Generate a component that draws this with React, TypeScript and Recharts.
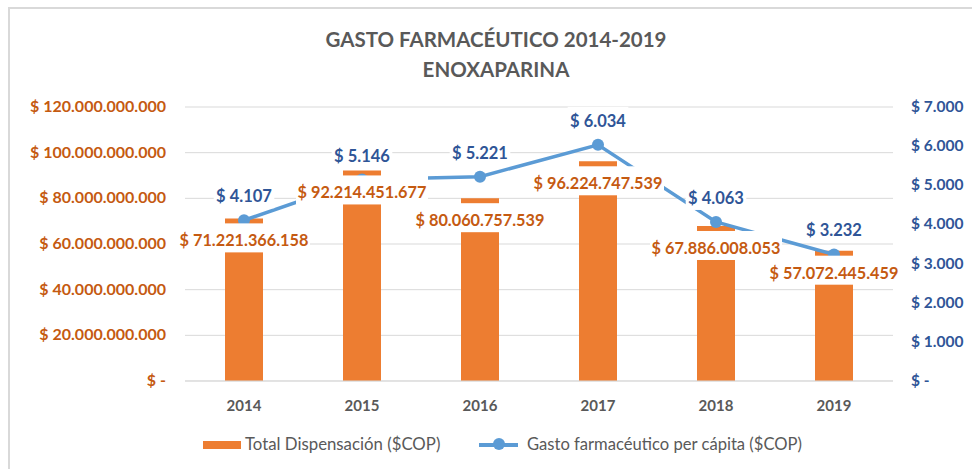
import { ComposedChart, Bar, Line, Scatter, XAxis, YAxis, CartesianGrid } from "recharts";

const years = ["2014", "2015", "2016", "2017", "2018", "2019"];
const totalDispensacion = [71221366158, 92214451677, 80060757539, 96224747539, 67886008053, 57072445459];
const gastoPerCapita = [4107, 5146, 5221, 6034, 4063, 3232];
const leftTicks = [0, 20000000000, 40000000000, 60000000000, 80000000000, 100000000000, 120000000000];
const rightTicks = [0, 1000, 2000, 3000, 4000, 5000, 6000, 7000];

const data = years.map((year, i) => ({
  year,
  total: totalDispensacion[i],
  perCapita: gastoPerCapita[i],
}));

const FONT = "Lato, 'Open Sans', sans-serif";
const ORANGE = "#ED7D31";
const ORANGE_TEXT = "#C55A11";
const BLUE = "#5B9BD5";
const BLUE_TEXT = "#2F5597";
const GRAY = "#595959";

// formato colombiano: puntos como separador de miles
function fmt(n: number) {
  if (n === 0) return "$ -";
  return "$ " + Math.round(n).toString().replace(/\B(?=(\d{3})+(?!\d))/g, ".");
}

function textWidth(s: string, size: number) {
  let w = 0;
  for (const c of s) {
    if (c === ".") w += 0.25;
    else if (c === " ") w += 0.26;
    else w += 0.56;
  }
  return w * size;
}

const LeftTick = (props: any) => {
  const { x, y, payload } = props;
  return (
    <text x={x} y={y} dy={5} textAnchor="end" fill={ORANGE_TEXT} fontFamily={FONT} fontWeight={700} fontSize={16}>
      {fmt(payload.value)}
    </text>
  );
};

const RightTick = (props: any) => {
  const { x, y, payload } = props;
  return (
    <text x={x} y={y} dy={5} textAnchor="start" fill={BLUE_TEXT} fontFamily={FONT} fontWeight={700} fontSize={15.5}>
      {fmt(payload.value)}
    </text>
  );
};

const YearTick = (props: any) => {
  const { x, y, payload } = props;
  return (
    <text x={x} y={y} dy={22} textAnchor="middle" fill={GRAY} fontFamily={FONT} fontWeight={700} fontSize={15}>
      {payload.value}
    </text>
  );
};

// etiqueta de la barra: caja blanca sobre el extremo superior
const BarValueShape = (props: any) => {
  const { cx, cy, payload } = props;
  const s = fmt(payload.total);
  const w = textWidth(s, 16.3) + 6;
  return (
    <g>
      <rect x={cx - w / 2} y={cy + 5} width={w} height={29} fill="#fff" />
      <text x={cx} y={cy + 28} textAnchor="middle" fill={ORANGE_TEXT} fontFamily={FONT} fontWeight={700} fontSize={16.3}>
        {s}
      </text>
    </g>
  );
};

const LineValueShape = (props: any) => {
  const { cx, cy, payload } = props;
  const s = fmt(payload.perCapita);
  const w = textWidth(s, 16.5) + 6;
  return (
    <g>
      <rect x={cx - w / 2} y={cy - 38} width={w} height={26} fill="#fff" />
      <text x={cx} y={cy - 18} textAnchor="middle" fill={BLUE_TEXT} fontFamily={FONT} fontWeight={700} fontSize={16.5}>
        {s}
      </text>
    </g>
  );
};

export default function App() {
  return (
    <div style={{ position: "absolute", left: 0, top: 0, width: 972, height: 469, background: "#fff", overflow: "hidden", fontFamily: FONT }}>
      <div style={{ position: "absolute", left: 8, top: 7, width: 980, height: 480, borderTop: "2px solid #D9D9D9", borderLeft: "2px solid #D9D9D9" }} />
      <div style={{ position: "absolute", left: 0, width: 992, top: 24, textAlign: "center", color: GRAY, fontSize: 20.5, fontWeight: 700, lineHeight: "30px" }}>
        GASTO FARMACÉUTICO 2014-2019
        <br />
        ENOXAPARINA
      </div>

      <ComposedChart width={972} height={469} data={data} margin={{ top: 107, right: 0, bottom: 58, left: 0 }}>
        <CartesianGrid yAxisId="left" vertical={false} stroke="#D9D9D9" />
        <XAxis dataKey="year" height={30} axisLine={{ stroke: "#D9D9D9" }} tickLine={false} tick={<YearTick />} />
        <YAxis yAxisId="left" width={185} domain={[0, 120000000000]} ticks={leftTicks} axisLine={false} tickLine={false} tickMargin={13} tick={<LeftTick />} />
        <YAxis yAxisId="right" orientation="right" width={79} domain={[0, 7000]} ticks={rightTicks} axisLine={false} tickLine={false} tickMargin={12} tick={<RightTick />} />
        <Bar yAxisId="left" dataKey="total" fill={ORANGE} barSize={38} isAnimationActive={false} />
        <Line yAxisId="right" dataKey="perCapita" stroke={BLUE} strokeWidth={3.5} dot={{ r: 6, fill: BLUE, stroke: BLUE, strokeWidth: 0 }} activeDot={false} isAnimationActive={false} />
        <Scatter yAxisId="right" dataKey="perCapita" shape={<LineValueShape />} isAnimationActive={false} zIndex={2000} />
        <Scatter yAxisId="left" dataKey="total" shape={<BarValueShape />} isAnimationActive={false} zIndex={2001} />
      </ComposedChart>

      <div style={{ position: "absolute", left: 203, top: 441, width: 38, height: 8, background: ORANGE }} />
      <div style={{ position: "absolute", left: 245, top: 433, color: GRAY, fontSize: 16.8, lineHeight: "22px", whiteSpace: "nowrap" }}>
        Total Dispensación ($COP)
      </div>
      <div style={{ position: "absolute", left: 479, top: 443, width: 39, height: 3.5, background: BLUE }} />
      <div style={{ position: "absolute", left: 493, top: 438, width: 12, height: 12, borderRadius: 6, background: BLUE }} />
      <div style={{ position: "absolute", left: 527, top: 433, color: GRAY, fontSize: 16.6, lineHeight: "22px", whiteSpace: "nowrap" }}>
        Gasto farmacéutico per cápita ($COP)
      </div>
    </div>
  );
}
